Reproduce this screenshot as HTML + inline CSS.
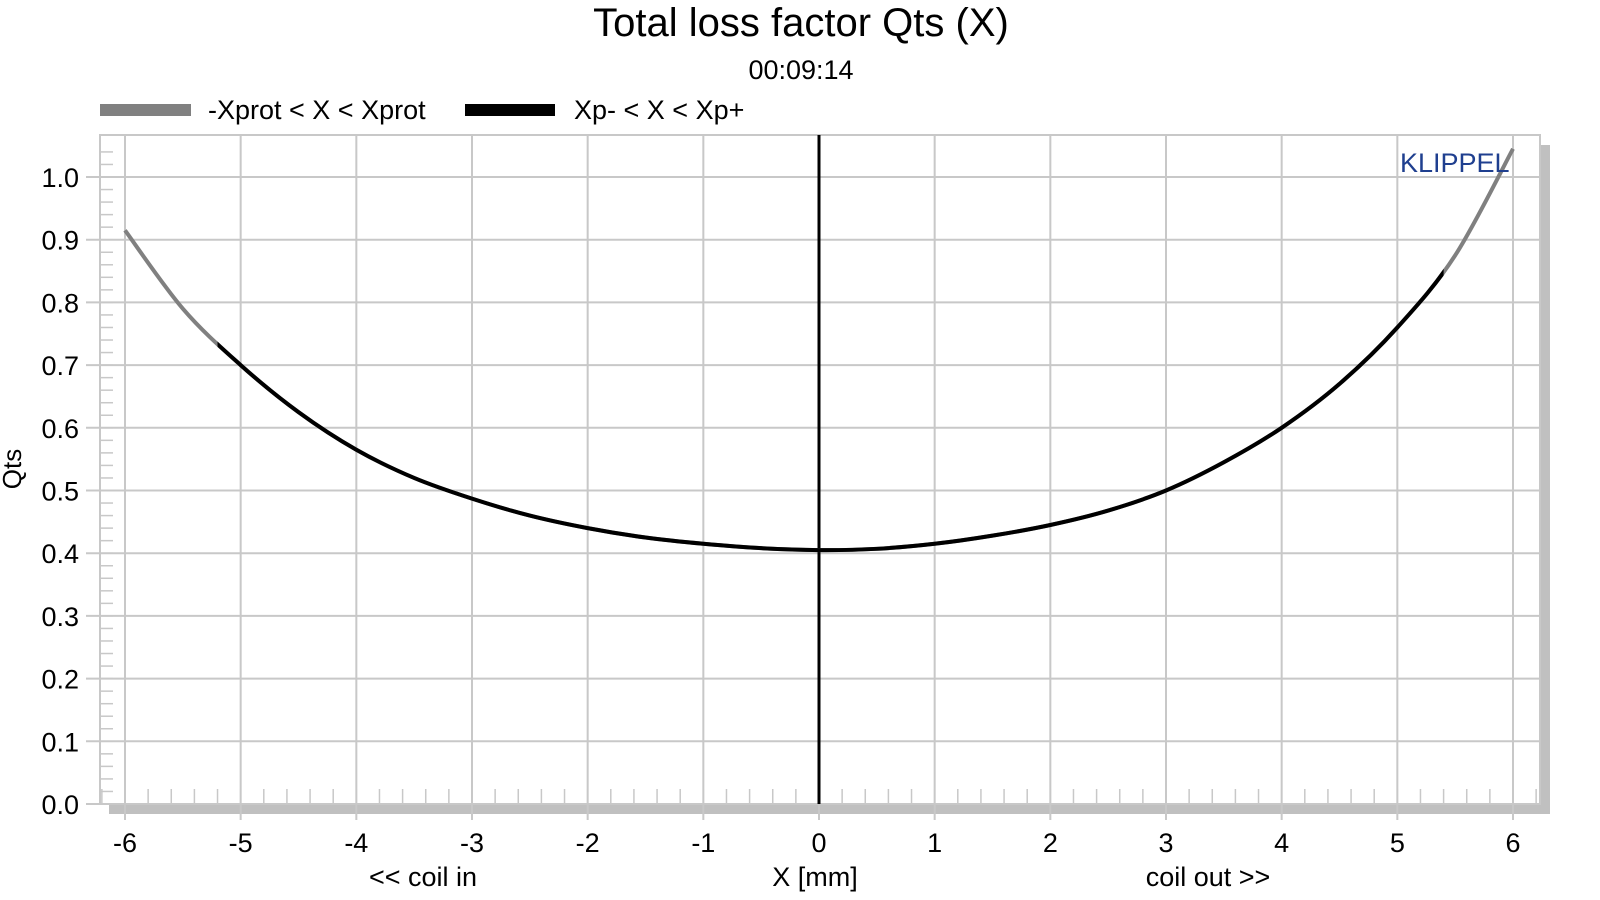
<!DOCTYPE html>
<html><head><meta charset="utf-8"><style>
body{margin:0;background:#fff;}
svg{display:block;font-family:"Liberation Sans",Arial,sans-serif;}
</style></head><body>
<svg id="chart" width="1600" height="900" viewBox="0 0 1600 900">
<text x="801" y="36" font-size="40" text-anchor="middle">Total loss factor Qts (X)</text>
<text x="801" y="79" font-size="27" text-anchor="middle">00:09:14</text>
<g>
<rect x="100" y="104" width="91" height="12" fill="#808080"/>
<text x="208" y="119" font-size="27">-Xprot &lt; X &lt; Xprot</text>
<rect x="465" y="104" width="90" height="12" fill="#000"/>
<text x="574" y="119" font-size="27">Xp- &lt; X &lt; Xp+</text>
</g>
<rect x="1540" y="145" width="10" height="669" fill="#c0c0c0"/>
<rect x="109" y="804" width="1441" height="10" fill="#c0c0c0"/>
<rect x="100" y="135" width="1440" height="669" fill="#fff" stroke="#c8c8c8" stroke-width="2"/>
<g id="grid"></g>
<g id="axes"></g>
<defs><clipPath id="xpclip"><rect id="xpclipRect" x="0" y="0" width="0" height="900"/></clipPath></defs>
<g id="series"></g>
<text x="1400" y="172" font-size="27" fill="#1f3f8f">KLIPPEL</text>
<text x="423" y="886" font-size="27" text-anchor="middle">&lt;&lt; coil in</text>
<text x="815" y="886" font-size="27" text-anchor="middle">X [mm]</text>
<text x="1208" y="886" font-size="27" text-anchor="middle">coil out &gt;&gt;</text>
<text x="0" y="0" font-size="26" text-anchor="middle" transform="translate(21,469) rotate(-90)">Qts</text>
</svg>
<script>
const xValues=[-6,-5.5,-5,-4.5,-4,-3.5,-3,-2.5,-2,-1.5,-1,-0.5,0,0.5,1,1.5,2,2.5,3,3.5,4,4.5,5,5.5,6];
const qtsValues=[0.915,0.79,0.70,0.625,0.565,0.52,0.487,0.46,0.44,0.425,0.415,0.408,0.405,0.407,0.415,0.428,0.445,0.468,0.50,0.545,0.60,0.67,0.76,0.875,1.045];
const xpRange=[-5.2,5.4];
const xTicks=[-6,-5,-4,-3,-2,-1,0,1,2,3,4,5,6];
const yTicks=[0,0.1,0.2,0.3,0.4,0.5,0.6,0.7,0.8,0.9,1.0];
const NS="http://www.w3.org/2000/svg";
const X=v=>125+(v+6)*(1513-125)/12;
const Y=v=>804-v*(804-177);
function mk(tag,attrs,parent){const e=document.createElementNS(NS,tag);for(const k in attrs)e.setAttribute(k,attrs[k]);parent.appendChild(e);return e;}
const grid=document.getElementById('grid'),axes=document.getElementById('axes'),series=document.getElementById('series');
yTicks.forEach(t=>{
 const l=mk('line',{x1:86,x2:1540,y1:Y(t),y2:Y(t),stroke:'#c8c8c8','stroke-width':2},grid);
 
 
 const tx=mk('text',{x:79,y:Y(t)+10,'font-size':27,'text-anchor':'end'},axes);
 tx.textContent=t.toFixed(1);
 
 
});
for(let v=0;v<1.05;v+=0.02){
 const m=mk('line',{x1:100,x2:113,y1:Y(v),y2:Y(v),stroke:'#c8c8c8','stroke-width':1.5},grid);
 
 
}
xTicks.forEach(t=>{
 const l=mk('line',{x1:X(t),x2:X(t),y1:135,y2:820,stroke:'#c8c8c8','stroke-width':2},grid);
 
 
 const tx=mk('text',{x:X(t),y:852,'font-size':27,'text-anchor':'middle'},axes);
 tx.textContent=String(t);
 
 
});
for(let i=-31;i<=31;i++){
 const v=i*0.2;
 const m=mk('line',{x1:X(v),x2:X(v),y1:789,y2:804,stroke:'#c8c8c8','stroke-width':1.5},grid);
 
 
}
const zl=mk('line',{x1:X(0),x2:X(0),y1:135,y2:804,stroke:'#000','stroke-width':3},axes);


const pts=xValues.map((x,i)=>[X(x),Y(qtsValues[i])]);
let d='M'+pts[0][0]+','+pts[0][1];
for(let i=0;i<pts.length-1;i++){
 const p0=pts[Math.max(0,i-1)],p1=pts[i],p2=pts[i+1],p3=pts[Math.min(pts.length-1,i+2)];
 const c1=[p1[0]+(p2[0]-p0[0])/6,p1[1]+(p2[1]-p0[1])/6],c2=[p2[0]-(p3[0]-p1[0])/6,p2[1]-(p3[1]-p1[1])/6];
 d+=' C'+c1+' '+c2+' '+p2;
}
const r=document.getElementById('xpclipRect');
r.setAttribute('x',X(xpRange[0]));r.setAttribute('width',X(xpRange[1])-X(xpRange[0]));
const g=mk('path',{d:d,fill:'none',stroke:'#808080','stroke-width':4},series);


const b=mk('path',{d:d,fill:'none',stroke:'#000','stroke-width':4,'clip-path':'url(#xpclip)'},series);


</script>
</body></html>
